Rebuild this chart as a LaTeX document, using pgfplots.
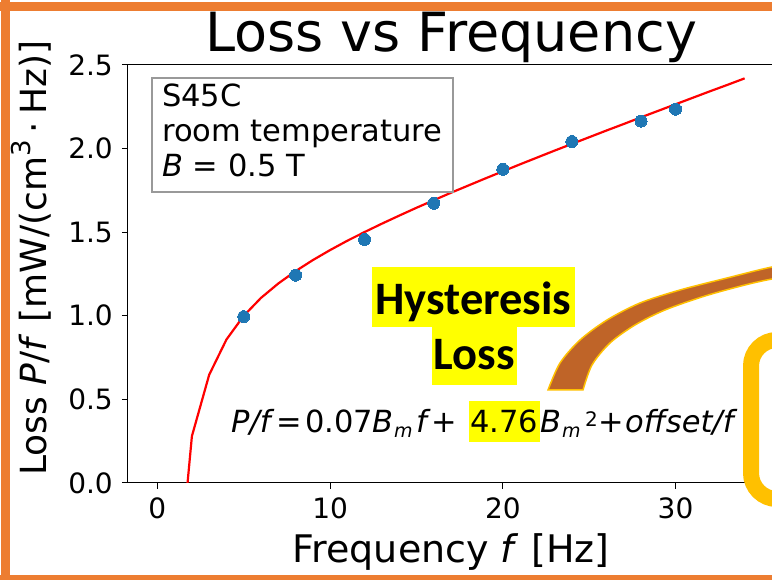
\documentclass[border=0pt]{standalone}
\usepackage{fontspec}
\setmainfont{DejaVu Sans}
\newfontfamily\calibri{Carlito}
\usepackage{pgfplots}
\pgfplotsset{compat=1.18}
\definecolor{mplblue}{HTML}{1F77B4}
\definecolor{pptorange}{HTML}{ED7D31}
\definecolor{pptgold}{HTML}{FFC000}
\definecolor{arrowbrown}{HTML}{BF6428}
\definecolor{hiyellow}{HTML}{FFFF00}
\newcommand{\supn}[1]{\raisebox{0.42em}{\fontsize{26}{26}\selectfont #1}}
\begin{document}
\begin{tikzpicture}[x=1pt,y=1pt]
\useasboundingbox (0,0) rectangle (772,580);
\fill[white] (0,0) rectangle (772,580);
\begin{axis}[
  at={(128pt,97pt)}, anchor=south west,
  scale only axis, width=646pt, height=418pt,
  xmin=-1.7, xmax=35.7, ymin=0, ymax=2.5,
  xtick={0,10,20,30}, ytick={0,0.5,1,1.5,2,2.5},
  tick align=outside, xtick pos=bottom, ytick pos=left,
  major tick length=6pt,
  tick style={black, line width=1pt},
  axis line style={black, line width=1pt},
  ticklabel style={font=\fontsize{28}{30}\selectfont, inner sep=9pt},
  yticklabel style={/pgf/number format/.cd, fixed, zerofill, precision=1},
  /pgf/number format/assume math mode=true,
  clip=true,
]
\addplot[only marks, mark=*, mark size=6pt, color=mplblue, mark options={fill=mplblue, draw=mplblue, line width=0pt}]
  coordinates {(5,0.995) (8,1.243) (12,1.457) (16,1.673) (20,1.876) (24,2.042) (28,2.164) (30,2.236)};
\addplot[red, line width=2.2pt, no marks] coordinates {
 (1,-0.826) (2,0.28) (3,0.647) (4,0.858) (5,1.000) (6,1.107) (7,1.193) (8,1.267)
 (9,1.333) (10,1.393) (11,1.449) (12,1.501) (13,1.551) (14,1.599) (15,1.646)
 (16,1.691) (17,1.736) (18,1.779) (19,1.822) (20,1.864) (21,1.906) (22,1.947)
 (23,1.988) (24,2.028) (25,2.068) (26,2.108) (27,2.147) (28,2.187) (29,2.226)
 (30,2.265) (31,2.304) (32,2.343) (33,2.381) (34,2.420)};
\end{axis}
% titles and labels
\node[anchor=base, font=\fontsize{54}{60}\selectfont, inner sep=0] at (451,528) {Loss vs Frequency};
\node[anchor=base, font=\fontsize{38}{40}\selectfont, inner sep=0] at (451,17) {Frequency \textit{f} [Hz]};
\node[rotate=90, anchor=base, font=\fontsize{36}{40}\selectfont, inner sep=0] at (46,322) {Loss \textit{P}/\textit{f} [mW/(cm\supn{3}\hspace{0.2em}·\hspace{0.2em}Hz)]};
% info box
\draw[black!40, line width=1.5pt, fill=white] (152,502) rectangle (453,388);
\node[anchor=base west, font=\fontsize{30.5}{30}\selectfont, inner sep=0] at (162,473) {S45C};
\node[anchor=base west, font=\fontsize{30.5}{30}\selectfont, inner sep=0] at (162,438) {room temperature};
\node[anchor=base west, font=\fontsize{30.5}{30}\selectfont, inner sep=0] at (162,403) {\textit{B} = 0.5 T};
% hysteresis label
\fill[hiyellow] (372,313) rectangle (575,253);
\fill[hiyellow] (432,253) rectangle (517,195);
\node[anchor=base, font=\calibri\bfseries\fontsize{46.5}{50}\selectfont, inner sep=0] at (473.5,265) {Hysteresis};
\node[anchor=base, font=\calibri\bfseries\fontsize{46.5}{50}\selectfont, inner sep=0] at (474.5,210) {Loss};
% formula
\fill[hiyellow] (469,179) rectangle (540,138);
\begin{scope}[every node/.style={anchor=base west, inner sep=0, font=\fontsize{30.5}{32}\selectfont}]
\node at (231,147) {\textit{P/f}};
\node at (276,147) {=};
\node at (305,147) {0.07};
\node at (372,147) {\textit{B}};
\node[font=\fontsize{19}{20}\selectfont] at (394,142) {\textit{m}};
\node at (416,147) {\textit{f}};
\node at (431,147) {+};
\node at (470,147) {4.76};
\node at (540,147) {\textit{B}};
\node[font=\fontsize{19}{20}\selectfont] at (562,142) {\textit{m}};
\node[font=\fontsize{20}{20}\selectfont] at (585,153) {2};
\node at (598,147) {+};
\node at (625,147) {\textit{offset/f}};
\end{scope}
% curved arrow
\draw[pptgold, line width=1.5pt, fill=arrowbrown]
  plot[smooth] coordinates {(548,190) (560,217) (580,240) (607,260) (640,277) (680,290) (727,302) (772,313) (800,316)}
  -- plot[smooth] coordinates {(800,305) (772,301) (745,295) (705,284) (665,270) (635,255) (610,237) (592,215) (583,190)}
  -- cycle;
% yellow rounded box
\draw[pptgold, line width=16pt, fill=white, rounded corners=26pt] (751,240) rectangle (840,81);
% orange border
\fill[pptorange] (1,0) rectangle (10,580);
\fill[pptorange] (0,569) rectangle (772,578);
\fill[pptorange] (0,0) rectangle (772,4.5);
\end{tikzpicture}
\end{document}
